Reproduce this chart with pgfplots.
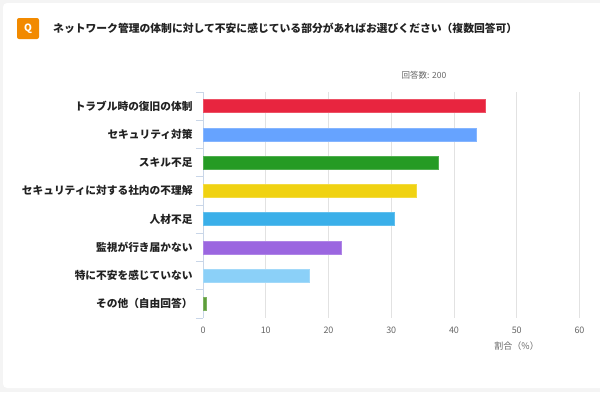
\documentclass[border=0pt]{standalone}
\usepackage{pgfplots}
\pgfplotsset{compat=1.18}
\usepackage{fontspec}
\setmainfont{Noto Sans CJK JP}
\definecolor{bg}{HTML}{F4F4F4}
\definecolor{qorange}{HTML}{F28A00}
\definecolor{c1}{HTML}{E8253F}
\definecolor{c2}{HTML}{66A3FF}
\definecolor{c3}{HTML}{259B24}
\definecolor{c4}{HTML}{F0D212}
\definecolor{c5}{HTML}{3AAFE9}
\definecolor{c6}{HTML}{9B66E0}
\definecolor{c7}{HTML}{8BD0F8}
\definecolor{c8}{HTML}{5D9E3A}
\definecolor{gridc}{HTML}{E2E2E2}
\definecolor{axc}{HTML}{C9D6E8}
\definecolor{txt}{HTML}{222222}
\definecolor{gtxt}{HTML}{666666}
\begin{document}
\begin{tikzpicture}
\begin{scope}[x=1pt,y=1pt]
\useasboundingbox (0,0) rectangle (600,-392);
\fill[bg] (0,0) rectangle (600,-392);
\fill[white,rounded corners=4pt] (3,-3) rectangle (606,-388);
\fill[qorange,rounded corners=2pt] (17,-18) rectangle (39,-39);
\node[white,font=\bfseries\fontsize{10}{12}\selectfont] at (28,-28.5) {Q};
\node[anchor=west,text=txt,font=\bfseries\fontsize{10.8}{13}\selectfont,inner sep=0] at (53,-28) {ネットワーク管理の体制に対して不安に感じている部分があればお選びください（複数回答可）};
\node[text=gtxt,font=\fontsize{8.5}{10}\selectfont] at (424,-75) {回答数: 200};
\end{scope}
\begin{axis}[
  at={(203pt,-318pt)}, anchor=south west,
  scale only axis, width=376.5pt, height=226pt,
  xbar, bar width=13pt,
  xmin=0, xmax=60,
  ymin=-0.5, ymax=7.5, y dir=reverse,
  ytick={0,...,7},
  yticklabels={トラブル時の復旧の体制,セキュリティ対策,スキル不足,セキュリティに対する社内の不理解,人材不足,監視が行き届かない,特に不安を感じていない,その他（自由回答）},
  yticklabel style={font=\bfseries\fontsize{10.7}{12}\selectfont,text=txt,xshift=-7pt},
  xtick={0,10,...,60},
  xticklabel style={font=\fontsize{9}{11}\selectfont,text=gtxt},
  /pgf/number format/assume math mode=true,
  major tick length=0pt,
  extra y ticks={-0.5,0.5,...,7.5},
  extra y tick labels={},
  extra y tick style={major tick length=7pt, tick align=outside, tick style={draw=axc,line width=0.8pt}},
  axis x line*=bottom, axis y line*=left,
  x axis line style={draw=none},
  y axis line style={draw=axc,line width=0.8pt},
  xmajorgrids, grid style={gridc,line width=0.8pt},
  xlabel={割合（\%）},
  xlabel style={font=\fontsize{9}{11}\selectfont,text=gtxt,at={(ticklabel cs:0.833)},anchor=north,yshift=-2pt},
  xticklabel shift=5pt,
  clip=false,
]
\addplot[fill=c1,draw=c1!80!white,bar shift=0pt] coordinates {(45,0)};
\addplot[fill=c2,draw=c2!80!white,bar shift=0pt] coordinates {(43.5,1)};
\addplot[fill=c3,draw=c3!80!white,bar shift=0pt] coordinates {(37.5,2)};
\addplot[fill=c4,draw=c4!80!white,bar shift=0pt] coordinates {(34,3)};
\addplot[fill=c5,draw=c5!80!white,bar shift=0pt] coordinates {(30.5,4)};
\addplot[fill=c6,draw=c6!80!white,bar shift=0pt] coordinates {(22,5)};
\addplot[fill=c7,draw=c7!80!white,bar shift=0pt] coordinates {(17,6)};
\addplot[fill=c8,draw=c8!80!white,bar shift=0pt] coordinates {(0.5,7)};
\end{axis}
\end{tikzpicture}
\end{document}
